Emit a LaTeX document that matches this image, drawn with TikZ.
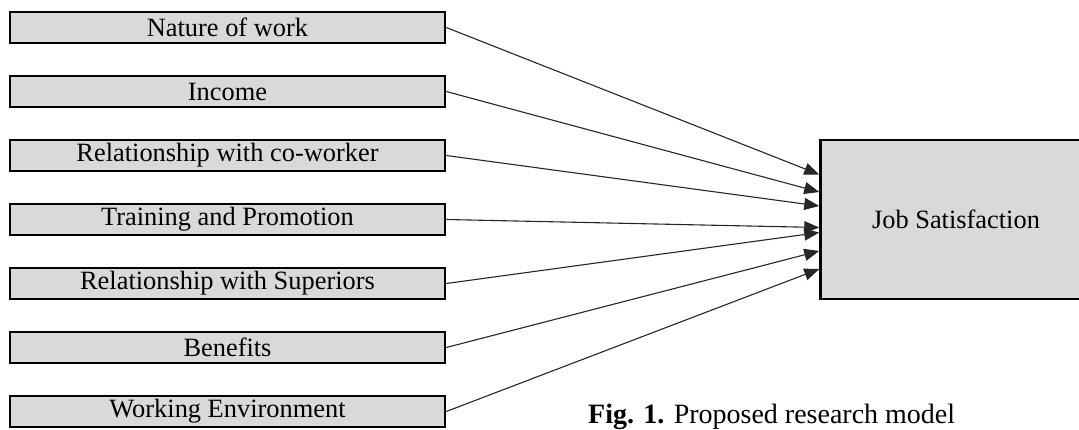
\documentclass[tikz,border=0pt]{standalone}
\usepackage{fontspec}
\setmainfont{Liberation Serif}
\usetikzlibrary{arrows.meta}
\begin{document}
\begin{tikzpicture}[x=1pt,y=-1pt,
  factor/.style={draw, line width=2.5pt, fill=black!15, minimum width=435pt, minimum height=31pt, inner sep=0pt, font=\fontsize{26.4}{30}\selectfont},
  link/.style={line width=1.1pt, color=black!85, -{Triangle[length=15pt,width=12pt]}}]
  \useasboundingbox (0,0) rectangle (1079,429);
  \node[factor] (N) at (227.5,27.5) {Nature of work};
  \node[factor] (I) at (227.5,91.5) {Income};
  \node[factor] (C) at (227.5,155.5) {Relationship with co-worker};
  \node[factor] (T) at (227.5,219.5) {Training and Promotion};
  \node[factor] (S) at (227.5,283.5) {Relationship with Superiors};
  \node[factor] (B) at (227.5,347.5) {Benefits};
  \node[factor] (W) at (227.5,411.5) {Working Environment};
  \node[draw, line width=2.5pt, fill=black!15, minimum width=271pt, minimum height=159pt, inner sep=0pt, font=\fontsize{26.4}{30}\selectfont] (J) at (956,219.5) {Job Satisfaction};
  \node[anchor=base west, inner sep=0pt, font=\fontsize{28}{32}\selectfont] (cap) at (588,423) {\textbf{Fig. 1.} Proposed research model};
  \draw[link] (N.east) -- ([yshift=45pt]J.west);
  \draw[link] (I.east) -- ([yshift=27.5pt]J.west);
  \draw[link] (C.east) -- ([yshift=13.5pt]J.west);
  \draw[link] (T.east) -- ([yshift=-8pt]J.west);
  \draw[link] (S.east) -- ([yshift=-13pt]J.west);
  \draw[link] (B.east) -- ([yshift=-31.5pt]J.west);
  \draw[link] (W.east) -- ([yshift=-49.5pt]J.west);
\end{tikzpicture}
\end{document}
